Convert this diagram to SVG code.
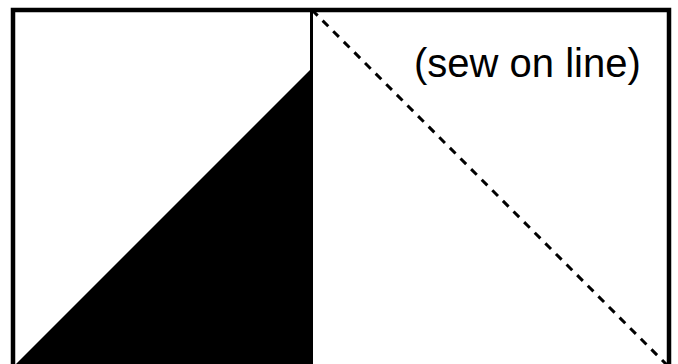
<svg xmlns="http://www.w3.org/2000/svg" width="678" height="364" viewBox="0 0 678 364">
<style>
.frame{fill:none;stroke:#000;stroke-width:4.5}
.seam{stroke:#000;stroke-width:3}
.sew{stroke:#000;stroke-width:3;stroke-dasharray:8 7;fill:none}
.lbl{font-family:"Liberation Sans",Arial,sans-serif;font-size:40px;fill:#000}
</style>
<rect width="678" height="364" fill="#fff"/>
<g id="left-square">
<polygon points="13,367 313,67 313,367" fill="#000"/>
</g>
<g id="connectors">
<line class="sew" x1="312" y1="10" x2="670" y2="368"/>
</g>
<g id="frame">
<rect class="frame" x="13" y="10" width="656" height="362"/>
<line class="seam" x1="311.5" y1="10" x2="311.5" y2="364"/>
</g>
<g id="label">
<text class="lbl" x="414" y="77">(sew on line)</text>
</g>
</svg>
